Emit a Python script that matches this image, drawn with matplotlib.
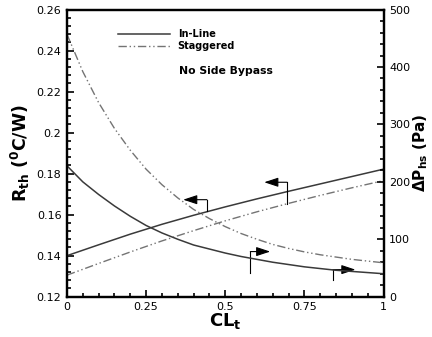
import numpy as np
import matplotlib
matplotlib.use("Agg")
import matplotlib.pyplot as plt
from matplotlib.ticker import MultipleLocator, FuncFormatter

# CL_t values where curves were read
cl_dp = [0.0, 0.05, 0.1, 0.15, 0.2, 0.25, 0.3, 0.35, 0.4, 0.45, 0.5,
         0.55, 0.6, 0.65, 0.7, 0.75, 0.8, 0.85, 0.9, 0.95, 1.0]
cl_rth = [0.0, 0.1, 0.2, 0.3, 0.4, 0.5, 0.6, 0.7, 0.8, 0.9, 1.0]

# thermal resistance (C/W)
rth_inline = [0.1400, 0.1453, 0.1505, 0.1553, 0.1597, 0.1638,
              0.1677, 0.1714, 0.1750, 0.1786, 0.1822]
rth_stag = [0.1305, 0.1362, 0.1418, 0.1472, 0.1522, 0.1570,
            0.1614, 0.1655, 0.1694, 0.1731, 0.1766]

# pressure drop (Pa)
dp_inline = [228, 200, 178, 158, 140, 124, 111, 100, 90, 83, 76,
             70, 65, 60, 56, 52, 49, 46, 44, 42, 40]
dp_stag = [457, 392, 338, 293, 255, 222, 195, 172, 152, 136, 122,
           110, 100, 91, 84, 78, 73, 69, 65, 62, 59]

# arrow brackets: (x, y_bottom, y_top, x_end) in Rth axis units
arrows = [(0.442, 0.1616, 0.1673, 0.367),
          (0.695, 0.1654, 0.1758, 0.623),
          (0.579, 0.1317, 0.1420, 0.642),
          (0.839, 0.1280, 0.1332, 0.911)]

solid_c = '#3a3a3a'
dash_c = '#747474'
dashdot2 = (0, (6, 2, 1, 2, 1, 2))

fig = plt.figure(figsize=(4.32, 3.37), dpi=100)
ax = fig.add_axes([0.155, 0.1196, 0.733, 0.852])
ax2 = ax.twinx()

l1, = ax.plot(cl_rth, rth_inline, color=solid_c, lw=1.1, label='In-Line')
l2, = ax.plot(cl_rth, rth_stag, color=dash_c, lw=1.0, linestyle=dashdot2,
              label='Staggered')
ax2.plot(cl_dp, dp_inline, color=solid_c, lw=1.1)
ax2.plot(cl_dp, dp_stag, color=dash_c, lw=1.0, linestyle=dashdot2)

for x, y0, y1, xe in arrows:
    ax.plot([x, x], [y0, y1], color='k', lw=0.8)
    ax.annotate('', xy=(xe, y1), xytext=(x, y1),
                arrowprops=dict(arrowstyle='-|>,head_length=0.85,head_width=0.28',
                                color='k', lw=0.8, mutation_scale=10,
                                shrinkA=0, shrinkB=0))

ax.set_xlim(0, 1)
ax.set_ylim(0.12, 0.26)
ax2.set_ylim(0, 500)

fmt = FuncFormatter(lambda v, p: f'{v:g}')
ax.xaxis.set_major_locator(MultipleLocator(0.25))
ax.xaxis.set_minor_locator(MultipleLocator(0.05))
ax.yaxis.set_major_locator(MultipleLocator(0.02))
ax.yaxis.set_minor_locator(MultipleLocator(0.004))
ax2.yaxis.set_major_locator(MultipleLocator(100))
ax2.yaxis.set_minor_locator(MultipleLocator(20))
ax.xaxis.set_major_formatter(fmt)
ax.yaxis.set_major_formatter(fmt)

for a in (ax, ax2):
    a.tick_params(which='both', direction='in', labelsize=8, width=1.2)
    a.tick_params(which='major', length=5, pad=4)
    a.tick_params(which='minor', length=2.8)
    for s in a.spines.values():
        s.set_linewidth(1.6)
ax.tick_params(axis='y', right=False)
ax.tick_params(axis='x', top=False)

ax.set_xlabel(r'$\mathbf{CL_t}$', fontsize=13, labelpad=-1)
ax.set_ylabel(r'$\mathbf{R_{th}\ (^0C/W)}$', fontsize=12.5, labelpad=3)
ax2.set_ylabel(r'$\mathbf{\Delta P_{hs}\ (Pa)}$', fontsize=11, labelpad=1)

ax.legend(handles=[l1, l2], loc='upper left', bbox_to_anchor=(0.161, 0.931),
          frameon=False, borderpad=0, borderaxespad=0, handlelength=5.35,
          handletextpad=0.8, labelspacing=0.18,
          prop={'weight': 'bold', 'size': 7})
ax.text(0.354, 0.786, 'No Side Bypass', transform=ax.transAxes,
        fontsize=7.8, fontweight='bold', va='center', ha='left')

fig.savefig('out.png', dpi=100)
